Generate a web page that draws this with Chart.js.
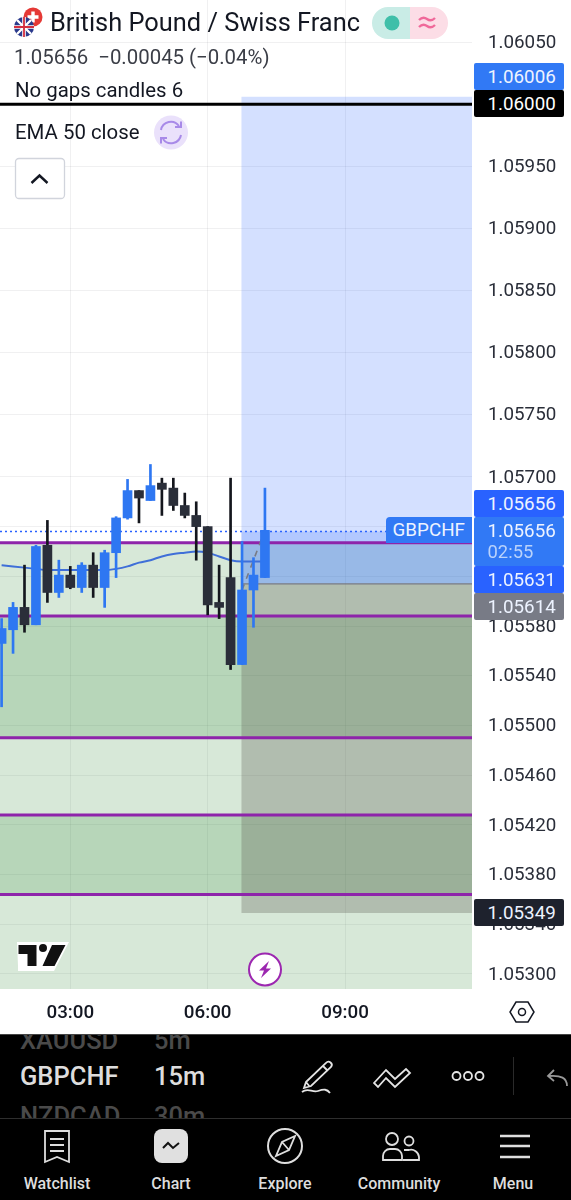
<!DOCTYPE html>
<html><head><meta charset="utf-8">
<script src="https://cdn.jsdelivr.net/npm/chart.js@4"></script>
<style>
html,body{margin:0;padding:0;background:#fff;width:571px;height:1200px;overflow:hidden;font-family:Roboto,sans-serif}
#c{position:absolute;left:0;top:0}
.t{position:absolute;white-space:nowrap;line-height:1}
.tag{position:absolute;left:474px;width:90px;box-sizing:border-box;padding-left:13.5px;font-size:18.8px;color:#edf3ff;display:flex;align-items:center;height:27px;border-radius:2px}
#bar{position:absolute;left:0;top:1034px;width:571px;height:166px;background:#000;overflow:hidden;border-top:1px solid #444;box-sizing:border-box}
#bar .t{color:#ddd}
svg{position:absolute;left:0;top:0}
</style></head><body>
<canvas id="c" width="571" height="1034"></canvas>

<div class="t" style="left:50px;top:10px;font-size:25.4px;color:#131722">British Pound / Swiss Franc</div>
<div class="t" style="left:14px;top:47px;font-size:20.4px;color:#3b3e47;white-space:pre">1.05656  −0.00045 (−0.04%)</div>
<div class="t" style="left:15px;top:80px;font-size:20.4px;color:#131722">No gaps candles 6</div>
<div class="t" style="left:15px;top:122px;font-size:20.4px;color:#131722">EMA 50 close</div>

<div class="tag" style="top:63px;background:#3179f5">1.06006</div>
<div class="tag" style="top:90px;background:#000;color:#fff">1.06000</div>
<div class="tag" style="top:490px;background:#2962ff">1.05656</div>
<div class="tag" style="top:517px;height:49px;background:#3179f5;display:block;padding-top:4.6px;line-height:1">1.05656<div style="color:#b9d2fb;margin-top:3px;font-size:18.4px;line-height:1">02:55</div></div>
<div class="tag" style="top:566px;background:#2962ff">1.05631</div>
<div class="tag" style="top:593px;background:#787b86">1.05614</div>
<div class="tag" style="top:899px;background:#1e222d">1.05349</div>
<div class="t" style="left:385.5px;top:517px;width:86.5px;height:26px;background:#3179f5;color:#edf3ff;font-size:18.8px;line-height:26px;text-align:center;border-radius:4px 0 0 0">GBPCHF</div>

<div id="bar">
  <div class="t" style="left:20px;top:-7px;font-size:25.5px;color:#4a4a4a;font-weight:500">XAUUSD</div>
  <div class="t" style="left:154px;top:-7px;font-size:25.5px;color:#4a4a4a;font-weight:500">5m</div>
  <div class="t" style="left:20px;top:29px;font-size:25.5px;font-weight:500">GBPCHF</div>
  <div class="t" style="left:154px;top:29px;font-size:25.5px;font-weight:500">15m</div>
  <div class="t" style="left:20px;top:69px;height:14px;overflow:hidden;font-size:25.5px;color:#4a4a4a;font-weight:500">NZDCAD</div>
  <div class="t" style="left:154px;top:69px;height:14px;overflow:hidden;font-size:25.5px;color:#4a4a4a;font-weight:500">30m</div>
  <div style="position:absolute;left:0;top:83px;width:571px;height:1px;background:#2e2e2e"></div>
  <div class="t" style="left:0;width:114px;text-align:center;top:141px;font-size:16px;font-weight:500">Watchlist</div>
  <div class="t" style="left:114px;width:114px;text-align:center;top:141px;font-size:16px;font-weight:500">Chart</div>
  <div class="t" style="left:228px;width:114px;text-align:center;top:141px;font-size:16px;font-weight:500">Explore</div>
  <div class="t" style="left:342px;width:114px;text-align:center;top:141px;font-size:16px;font-weight:500">Community</div>
  <div class="t" style="left:456px;width:114px;text-align:center;top:141px;font-size:16px;font-weight:500">Menu</div>
</div>

<svg width="571" height="1200" viewBox="0 0 571 1200" fill="none">
  <circle cx="33" cy="17" r="9.5" fill="#e53935"/>
  <path d="M33 11.5v11M27.5 17h11" stroke="#fff" stroke-width="3.4"/>
  <circle cx="24" cy="27" r="10" fill="#2b3a8c"/>
  <path d="M17 20l14 14M31 20L17 34" stroke="#fff" stroke-width="2.4"/>
  <path d="M24 17v20M14 27h20" stroke="#fff" stroke-width="3.6"/>
  <path d="M24 17v20M14 27h20" stroke="#d32f3f" stroke-width="1.8"/>
  <path d="M388 7h22v32h-22a16 16 0 0 1 0-32z" fill="#c9ece6"/>
  <path d="M410 7h22a16 16 0 0 1 0 32h-22z" fill="#fcdde6"/>
  <circle cx="392" cy="23" r="7.5" fill="#3fbfa9"/>
  <path d="M419 20q4-4 8-1t8-1M419 27q4-4 8-1t8-1" stroke="#f0699a" stroke-width="2.4"/>
  <circle cx="171" cy="132.5" r="17" fill="#eae1fb"/>
  <path d="M161 130a10 10 0 0 1 18-4M181 135a10 10 0 0 1-18 4" stroke="#a88ae8" stroke-width="2"/>
  <path d="M175 127h6v-5.500M167 138h-6v5.500" stroke="#a88ae8" stroke-width="2"/>
  <rect x="15.500" y="158.500" width="49" height="40" rx="3.500" fill="#fff" stroke="#d1d4dc" stroke-width="1.300"/>
  <path d="M31.500 183l8-7.500 8 7.500" stroke="#131722" stroke-width="2.400"/>
  <path d="M17 942h52l-15 29H18v-5h0z" fill="#fff"/>
  <path d="M18.500 945h18v21h-9v-12h-9zM39 948a4 4 0 1 1 8 0 4 4 0 0 1-8 0zM52 945h13.500l-11 21H42.500z" fill="#111"/>
  <circle cx="265" cy="969.500" r="16" fill="#fff" stroke="#9c27b0" stroke-width="2"/>
  <path d="M269 961l-10 9.500h5l-3 7.500 10-9.500h-5z" fill="#9c27b0"/>
  <path d="M516 1002h12l6 10-6 10h-12l-6-10z" stroke="#131722" stroke-width="1.500"/>
  <circle cx="522" cy="1012" r="3.500" stroke="#131722" stroke-width="1.500"/>
  <g stroke="#e4e4e4" stroke-width="1.800">
    <path d="M306 1082l20-19a3 3 0 0 1 5 4l-20 19-7 2zM323 1066l5 5M306 1082l4 5"/>
    <path d="M302 1092c6-5 10 1 16-1s9-2 12 2"/>
    <path d="M374 1083l12-13 9 9 11-10 4 4-15 14-9-9-8 9z"/>
    <circle cx="456.500" cy="1076" r="4"/><circle cx="468" cy="1076" r="4"/><circle cx="479.500" cy="1076" r="4"/>
  </g>
  <path d="M513.500 1057v38" stroke="#2a2a2a"/>
  <path d="M567 1086c0-8-6-11-18-10M554 1070l-6 6 6 5" stroke="#999" stroke-width="1.800"/>
  <path d="M45 1131h24v31l-12-5-12 5zM50 1139h14M50 1145h14M50 1151h14" stroke="#dedede" stroke-width="1.800"/>
  <rect x="154" y="1129" width="34" height="34" rx="8" fill="#e0e0e0"/>
  <path d="M163 1148l5-5 5 5 6-5" stroke="#111" stroke-width="2"/>
  <circle cx="285" cy="1146" r="17" stroke="#dedede" stroke-width="2"/>
  <path d="M295 1136l-13 6-6 14 13-6zM282 1142l7 8" stroke="#dedede" stroke-width="1.800"/>
  <circle cx="392" cy="1139" r="6" stroke="#dedede" stroke-width="1.800"/>
  <circle cx="409" cy="1141" r="4.500" stroke="#dedede" stroke-width="1.800"/>
  <path d="M383 1160v-4a7 7 0 0 1 7-7h5a7 7 0 0 1 7 7v4zM404 1150h5a8 8 0 0 1 10 7v3h-16" stroke="#dedede" stroke-width="1.800"/>
  <path d="M500 1136h30M500 1146h30M500 1157h30" stroke="#dedede" stroke-width="2.600"/>
</svg>

<script>
// ---- data ----
const candleMinutes = [90,105,120,135,150,165,180,195,210,225,240,255,270,285,300,315,330,345,360,375,390,405,420,435];
const opens  = [1.05566,1.05577,1.05595,1.05581,1.05645,1.05607,1.05621,1.05611,1.05629,1.05611,1.05639,1.05667,1.05689,1.05681,1.05695,1.05691,1.05677,1.05669,1.05660,1.05599,1.05619,1.05549,1.05609,1.05619];
const highs  = [1.05586,1.05599,1.05629,1.05645,1.05665,1.05633,1.05628,1.05631,1.05639,1.05641,1.05668,1.05698,1.05689,1.05710,1.05699,1.05699,1.05687,1.05680,1.05660,1.05629,1.05699,1.05648,1.05635,1.05691];
const lows   = [1.05515,1.05558,1.05575,1.05581,1.05599,1.05603,1.05610,1.05607,1.05603,1.05595,1.05619,1.05666,1.05663,1.05681,1.05669,1.05673,1.05667,1.05633,1.05589,1.05586,1.05545,1.05549,1.05579,1.05619];
const closes = [1.05578,1.05595,1.05581,1.05644,1.05607,1.05621,1.05611,1.05629,1.05611,1.05639,1.05667,1.05689,1.05683,1.05693,1.05690,1.05677,1.05669,1.05660,1.05597,1.05595,1.05549,1.05609,1.05621,1.05657];
const ema50  = [1.05629,1.05628,1.05627,1.05626,1.05625,1.05625,1.05625,1.05625,1.05625,1.05625,1.05626,1.05628,1.05631,1.05633,1.05636,1.05638,1.05639,1.05640,1.05639,1.05636,1.05633,1.05632,1.05632,1.05632];
const priceTicks = [1.06050,1.06000,1.05950,1.05900,1.05850,1.05800,1.05750,1.05700,1.05660,1.05620,1.05580,1.05540,1.05500,1.05460,1.05420,1.05380,1.05340,1.05300];
const timeTicks = [180,360,540];
const timeLabels = ['03:00','06:00','09:00'];
const zoneLevels = [1.05647,1.05588,1.05490,1.05428,1.05364];
const blackLevel = 1.06000;
const lastPrice = 1.05656;
const entryPrice = 1.05614;
const targetPrice = 1.06006;
const stopPrice = 1.05349;
const positionStart = 404;
const tagLeftMinute = 600;
const arrowMinutes = [405,435];
const arrowPrices = [1.05609,1.05657];
const xMin = 87.9, xMax = 706.3, yMin = 1.052879, yMax = 1.060838;

// ---- colours ----
const BLUE='#2e77f2', DARK='#2a2e39';
const candleColors = opens.map((o,i)=>closes[i]>=o?BLUE:DARK);

const hSeg=(x0,x1,y)=>[{x:x0,y},{x:x1,y}];
const fillBand=(x0,x1,top,bottom,color,order)=>({type:'line',data:hSeg(x0,x1,top),borderWidth:0,borderColor:'transparent',pointRadius:0,
  fill:{target:{value:bottom}},backgroundColor:color,order});
const hLine=(x0,x1,y,color,w,order,dash)=>({type:'line',data:hSeg(x0,x1,y),borderColor:color,borderWidth:w,pointRadius:0,borderDash:dash||[],order,fill:false});

const GREEN='rgba(56,142,60,0.2)';
const datasets=[
  fillBand(xMin,xMax,zoneLevels[0],yMin,GREEN,100),
  fillBand(xMin,xMax,zoneLevels[1],zoneLevels[2],GREEN,99),
  fillBand(xMin,xMax,zoneLevels[3],zoneLevels[4],GREEN,98),
  fillBand(positionStart,xMax,targetPrice,entryPrice,'rgba(41,98,255,0.2)',97),
  fillBand(positionStart,xMax,entryPrice,stopPrice,'rgba(90,90,80,0.3)',96),
  fillBand(positionStart,xMax,lastPrice,entryPrice,'rgba(41,98,255,0.2)',95),
  hLine(positionStart,xMax,entryPrice,'#787b86',1.2,94),
  ...zoneLevels.map((l,i)=>hLine(xMin,xMax,l,'#8e24aa',3,90-i)),
  hLine(xMin,xMax,blackLevel,'#000',3,80),
  hLine(xMin,tagLeftMinute,lastPrice,'#2962ff',1.5,79,[2,3]),
  {type:'line',data:candleMinutes.map((x,i)=>({x,y:ema50[i]})),borderColor:'#3f6fd8',borderWidth:2,pointRadius:0,cubicInterpolationMode:'monotone',fill:false,order:70},
  {type:'line',data:arrowMinutes.map((x,i)=>({x,y:arrowPrices[i]})),borderColor:'#787b86',borderWidth:1.6,borderDash:[6,6],pointRadius:0,fill:false,order:5},
  {type:'bar',data:candleMinutes.map((x,i)=>({x,y:[lows[i],highs[i]]})),backgroundColor:candleColors.map(c=>c===DARK?'#14161d':c),barThickness:2,grouped:false,order:3},
  {type:'bar',data:candleMinutes.map((x,i)=>({x,y:[opens[i],closes[i]]})),backgroundColor:candleColors,barThickness:9,grouped:false,order:2},
];

new Chart(document.getElementById('c'),{
  data:{datasets},
  options:{
    responsive:false,animation:false,devicePixelRatio:1,
    layout:{padding:0},
    plugins:{legend:{display:false},tooltip:{enabled:false},title:{display:false}},
    scales:{
      x:{type:'linear',position:'bottom',min:xMin,max:xMax,offset:false,
        afterBuildTicks:s=>{s.ticks=timeTicks.map(value=>({value}));},
        afterFit:s=>{s.height=45;s.paddingLeft=0;s.paddingRight=0;},
        grid:{color:'rgba(42,46,57,0.07)',lineWidth:1,tickLength:0,offset:false,drawTicks:false},border:{display:false},
        ticks:{autoSkip:false,maxRotation:0,padding:13,color:'#131722',font:{family:'Roboto',size:18.8,weight:'500'},
          callback:v=>timeLabels[timeTicks.indexOf(v)]}},
      y:{type:'linear',position:'right',min:yMin,max:yMax,
        afterBuildTicks:s=>{s.ticks=priceTicks.map(value=>({value}));},
        afterFit:s=>{s.width=99;s.paddingTop=0;s.paddingBottom=0;},
        grid:{color:'rgba(42,46,57,0.07)',lineWidth:1,drawTicks:false,tickLength:0},border:{display:false},
        ticks:{autoSkip:false,padding:16,labelOffset:1,color:'#2a2e39',font:{family:'Roboto',size:18.8},
          callback:v=>v.toFixed(5)}}
    }
  }
});
</script>
</body></html>
